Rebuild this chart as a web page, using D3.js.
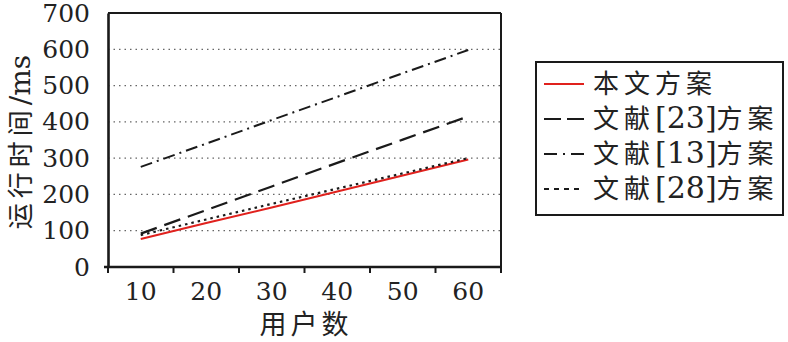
<!DOCTYPE html>
<html>
<head>
<meta charset="utf-8">
<script src="https://cdn.jsdelivr.net/npm/d3@7"></script>
<style>
  html, body { margin: 0; padding: 0; background: #fff; }
  svg { display: block; }
</style>
</head>
<body>
<svg id="chart" width="788" height="342"></svg>
<script>
// Number of users on the x axis
const users = ["10", "20", "30", "40", "50", "60"];
// Running time (ms) for each scheme
const oursValues = [77, 121, 164, 208, 252, 296];
const ref23Values = [92, 157, 222, 287, 351, 415];
const ref13Values = [276, 340, 405, 469, 534, 598];
const ref28Values = [88, 131, 174, 216, 258, 300];
const yTicks = [0, 100, 200, 300, 400, 500, 600, 700];
const seriesNames = ["本文方案", "文献[23]方案", "文献[13]方案", "文献[28]方案"];

const seriesList = [
  { name: seriesNames[0], values: oursValues, color: "#e0211d", dash: null, legendDash: null, width: 2 },
  { name: seriesNames[1], values: ref23Values, color: "#1a1a1a", dash: "17,8", legendDash: "17,6", width: 2.2 },
  { name: seriesNames[2], values: ref13Values, color: "#1a1a1a", dash: "12,5,2,5", legendDash: "13,6,2,6", width: 2 },
  { name: seriesNames[3], values: ref28Values, color: "#1a1a1a", dash: "2.5,4", legendDash: "5,5", width: 2.2 }
];

const svg = d3.select("#chart");
const plotLeft = 108, plotRight = 501, plotTop = 13, plotBottom = 267;
const serif = "'DejaVu Serif', 'Liberation Serif', serif";
const cjk = "'Noto Sans CJK SC', sans-serif";

const x = d3.scaleBand().domain(users).range([plotLeft, plotRight]).padding(0);
const y = d3.scaleLinear().domain([0, 700]).range([plotBottom, plotTop]);

// Dotted horizontal gridlines
svg.append("g").selectAll("line")
  .data(yTicks.filter(v => v > 0 && v < 700))
  .join("line")
  .attr("x1", plotLeft).attr("x2", plotRight)
  .attr("y1", d => y(d)).attr("y2", d => y(d))
  .attr("stroke", "#666").attr("stroke-width", 1.2)
  .attr("stroke-dasharray", "1.5,4");

// Series lines through band centres
const line = d3.line()
  .x((d, i) => x(users[i]) + x.bandwidth() / 2)
  .y(d => y(d));

svg.append("g").selectAll("path")
  .data(seriesList)
  .join("path")
  .attr("d", d => line(d.values))
  .attr("fill", "none")
  .attr("stroke", d => d.color)
  .attr("stroke-width", d => d.width)
  .attr("stroke-dasharray", d => d.dash);

// Frame: thin top/right, heavier left/bottom
svg.append("line").attr("x1", plotLeft).attr("x2", plotRight).attr("y1", plotTop).attr("y2", plotTop)
  .attr("stroke", "#1a1a1a").attr("stroke-width", 2);
svg.append("line").attr("x1", plotRight).attr("x2", plotRight).attr("y1", plotTop).attr("y2", plotBottom)
  .attr("stroke", "#1a1a1a").attr("stroke-width", 2);

// Y axis
const yAxis = svg.append("g")
  .attr("transform", `translate(${plotLeft},0)`)
  .call(d3.axisLeft(y).tickValues(yTicks).tickSize(0).tickPadding(18));
yAxis.select(".domain").attr("stroke", "#1a1a1a").attr("stroke-width", 2.6);
yAxis.selectAll("text")
  .attr("font-family", serif).attr("font-size", 25).attr("fill", "#222");

// X axis: labels centred in bands, ticks on band boundaries
const xAxis = svg.append("g")
  .attr("transform", `translate(0,${plotBottom})`)
  .call(d3.axisBottom(x).tickSize(0).tickPadding(15));
xAxis.select(".domain").remove();
xAxis.selectAll("text")
  .attr("font-family", serif).attr("font-size", 25).attr("fill", "#222");

const boundaries = users.map(u => x(u)).concat([x(users[users.length - 1]) + x.bandwidth()]);
svg.append("g").selectAll("line")
  .data(boundaries)
  .join("line")
  .attr("x1", d => d).attr("x2", d => d)
  .attr("y1", plotBottom).attr("y2", plotBottom + 6)
  .attr("stroke", "#1a1a1a").attr("stroke-width", 2);
svg.append("line").attr("x1", plotLeft - 4).attr("x2", plotRight).attr("y1", plotBottom).attr("y2", plotBottom)
  .attr("stroke", "#1a1a1a").attr("stroke-width", 2.6);

// Axis titles
svg.append("text")
  .attr("x", 306).attr("y", 334)
  .attr("text-anchor", "middle")
  .attr("font-family", cjk).attr("font-size", 27).attr("letter-spacing", 4)
  .attr("fill", "#222")
  .text("用户数");

const yTitle = svg.append("text")
  .attr("transform", "translate(30,142) rotate(-90)")
  .attr("text-anchor", "middle")
  .attr("font-family", cjk).attr("font-size", 26).attr("fill", "#222");
yTitle.append("tspan").attr("letter-spacing", 5).text("运行时间");
yTitle.append("tspan").attr("font-family", serif).attr("font-size", 28).text("/ms");

// Legend
const legend = svg.append("g");
legend.append("rect")
  .attr("x", 536).attr("y", 62).attr("width", 247).attr("height", 153)
  .attr("fill", "#fff").attr("stroke", "#1a1a1a").attr("stroke-width", 2);

const rowY = d3.scalePoint().domain(seriesNames).range([84, 189]);
const rows = legend.selectAll("g.row")
  .data(seriesList)
  .join("g").attr("class", "row")
  .attr("transform", d => `translate(0,${rowY(d.name)})`);
rows.append("line")
  .attr("x1", 544).attr("x2", 584).attr("y1", 0).attr("y2", 0)
  .attr("stroke", d => d.color)
  .attr("stroke-width", d => d.width)
  .attr("stroke-dasharray", d => d.legendDash);
rows.append("text")
  .attr("x", 593).attr("y", 0).attr("dy", "0.36em")
  .attr("font-family", cjk).attr("font-size", 26).attr("fill", "#222")
  .each(function(d) {
    const t = d3.select(this);
    const parts = d.name.split(/(\[\d+\])/);
    parts.forEach(p => {
      if (!p) return;
      const s = t.append("tspan").text(p);
      if (/^\[\d+\]$/.test(p)) {
        s.attr("font-family", serif).attr("font-size", 30).attr("letter-spacing", 0);
      } else {
        s.attr("letter-spacing", 5);
      }
    });
  });
</script>
</body>
</html>
